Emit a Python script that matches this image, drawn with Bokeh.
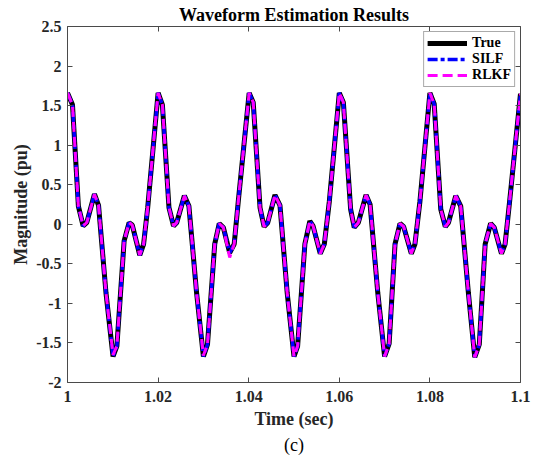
from bokeh.plotting import figure
from bokeh.models import (Range1d, FixedTicker, LinearAxis, Legend, LegendItem,
                          Title, CustomJSTickFormatter)
from bokeh.embed import file_html
from bokeh.resources import INLINE

# ---- data (time in ms after t = 1 s) ----
time_ms = [0.0, 1.1, 2.4, 3.45, 4.25, 5.95, 6.85, 8.5, 10.05, 10.9, 12.5, 13.6, 14.3, 15.95, 16.8, 17.7,
           20.0, 20.95, 22.4, 23.4, 24.1, 25.8, 26.8, 28.5, 30.0, 30.9, 32.5, 33.5, 34.4, 35.8, 36.8, 37.7,
           40.1, 41.0, 42.5, 43.4, 44.2, 45.8, 46.9, 48.5, 50.0, 50.8, 52.4, 53.5, 54.2, 55.8, 56.7, 57.8,
           60.0, 60.9, 62.5, 63.3, 64.2, 65.9, 66.8, 68.5, 70.0, 71.0, 72.3, 73.4, 74.2, 75.9, 76.7, 77.8,
           80.0, 80.95, 82.4, 83.4, 84.1, 85.7, 86.8, 88.5, 89.9, 90.9, 92.2, 93.4, 94.2, 95.8, 96.6, 97.6,
           100.0]

true_vals = [1.66, 1.51, 0.23, -0.02, 0.02, 0.38, 0.24, -0.87, -1.67, -1.54, -0.21, 0.02, -0.01, -0.39, -0.25, 0.21,
             1.66, 1.51, 0.21, -0.02, 0.02, 0.36, 0.23, -0.87, -1.67, -1.52, -0.25, 0.01, -0.04, -0.36, -0.25, 0.29,
             1.66, 1.54, 0.21, -0.03, 0.02, 0.37, 0.24, -0.87, -1.67, -1.54, -0.25, 0.04, -0.02, -0.37, -0.25, 0.29,
             1.66, 1.54, 0.19, -0.04, 0.02, 0.37, 0.25, -0.87, -1.67, -1.51, -0.25, 0.01, -0.03, -0.37, -0.25, 0.29,
             1.66, 1.52, 0.19, -0.03, 0.02, 0.36, 0.23, -0.87, -1.68, -1.52, -0.25, 0.01, -0.04, -0.37, -0.25, 0.29,
             1.65]

silf_vals = [1.66, 1.51, 0.23, -0.02, 0.02, 0.38, 0.24, -0.87, -1.67, -1.54, -0.21, 0.02, -0.01, -0.39, -0.25, 0.21,
             1.66, 1.51, 0.21, -0.02, 0.02, 0.36, 0.23, -0.87, -1.67, -1.52, -0.25, 0.01, -0.04, -0.36, -0.25, 0.29,
             1.66, 1.54, 0.21, -0.03, 0.02, 0.37, 0.24, -0.87, -1.67, -1.54, -0.25, 0.04, -0.02, -0.37, -0.25, 0.29,
             1.66, 1.54, 0.19, -0.04, 0.02, 0.37, 0.25, -0.87, -1.67, -1.51, -0.25, 0.01, -0.03, -0.37, -0.25, 0.29,
             1.66, 1.52, 0.19, -0.03, 0.02, 0.36, 0.23, -0.87, -1.68, -1.52, -0.25, 0.01, -0.04, -0.37, -0.25, 0.29,
             1.65]

rlkf_vals = [1.66, 1.51, 0.23, -0.02, 0.02, 0.38, 0.24, -0.87, -1.65, -1.54, -0.21, 0.02, -0.01, -0.39, -0.25, 0.21,
             1.66, 1.51, 0.21, -0.02, 0.02, 0.36, 0.23, -0.87, -1.66, -1.52, -0.25, 0.01, -0.04, -0.42, -0.25, 0.29,
             1.66, 1.54, 0.21, -0.03, 0.02, 0.37, 0.24, -0.87, -1.67, -1.54, -0.25, 0.04, -0.02, -0.37, -0.25, 0.29,
             1.66, 1.54, 0.19, -0.04, 0.02, 0.37, 0.25, -0.87, -1.67, -1.51, -0.25, 0.01, -0.03, -0.37, -0.25, 0.29,
             1.66, 1.52, 0.19, -0.03, 0.02, 0.36, 0.23, -0.87, -1.68, -1.52, -0.25, 0.01, -0.04, -0.37, -0.25, 0.29,
             1.65]

x_ticks = [1.0, 1.02, 1.04, 1.06, 1.08, 1.1]
y_ticks = [-2, -1.5, -1, -0.5, 0, 0.5, 1, 1.5, 2, 2.5]

time_s = [1.0 + t / 1000.0 for t in time_ms]

FONT = "Liberation Serif"
AX = "#4a4a4a"

p = figure(width=538, height=457, output_backend="svg", toolbar_location=None,
           x_range=Range1d(1.0, 1.1), y_range=Range1d(-2, 2.5),
           min_border_left=67, min_border_right=18, min_border_top=26, min_border_bottom=75,
           title="Waveform Estimation Results")
p.background_fill_color = "white"
p.border_fill_color = "white"
p.outline_line_color = None
p.xgrid.visible = False
p.ygrid.visible = False

p.title.align = "center"
p.title.text_font = FONT
p.title.text_font_style = "bold"
p.title.text_font_size = "18px"
p.title.text_color = "black"
p.title.standoff = 4

fmt = CustomJSTickFormatter(code="return String(Number(tick.toFixed(4)));")
blank_fmt = CustomJSTickFormatter(code="return '';")

def style_axis(ax, ticks, show_labels):
    ax.ticker = FixedTicker(ticks=ticks)
    ax.axis_line_color = AX
    ax.axis_line_width = 1
    ax.major_tick_line_color = AX
    ax.major_tick_in = 5
    ax.major_tick_out = 0
    ax.minor_tick_line_color = None
    ax.major_label_text_font = FONT
    ax.major_label_text_font_style = "bold"
    ax.major_label_text_color = "#262626"
    ax.major_label_text_font_size = "16px"
    if show_labels:
        ax.formatter = fmt
    else:
        ax.formatter = blank_fmt
        ax.major_label_standoff = 0
    ax.axis_label_text_font = FONT
    ax.axis_label_text_font_style = "bold"
    ax.axis_label_text_font_size = "18px"
    ax.axis_label_text_color = "#262626"

style_axis(p.xaxis[0], x_ticks, True)
style_axis(p.yaxis[0], y_ticks, True)
p.xaxis[0].axis_label = "Time (sec)"
p.xaxis[0].major_label_standoff = 8
p.xaxis[0].axis_label_standoff = 4
p.yaxis[0].axis_label = "Magnitude (pu)"
p.yaxis[0].major_label_standoff = 6
p.yaxis[0].axis_label_standoff = 2

top_ax = LinearAxis()
style_axis(top_ax, x_ticks, False)
p.add_layout(top_ax, "above")
right_ax = LinearAxis()
style_axis(right_ax, y_ticks, False)
p.add_layout(right_ax, "right")

r_true = p.line(time_s, true_vals, line_color="black", line_width=5)
r_silf = p.line(time_s, silf_vals, line_color="#0000FF", line_width=3.5, line_dash="10 3 4 3")
r_rlkf = p.line(time_s, rlkf_vals, line_color="#FF00FF", line_width=3, line_dash="10 5")

legend = Legend(items=[LegendItem(label="True", renderers=[r_true]),
                       LegendItem(label="SILF", renderers=[r_silf]),
                       LegendItem(label="RLKF", renderers=[r_rlkf])],
                location="top_right")
legend.margin = 5
legend.padding = 3
legend.spacing = 0
legend.glyph_width = 40
legend.glyph_height = 16
legend.label_height = 16
legend.label_standoff = 5
legend.label_text_font = FONT
legend.label_text_font_style = "bold"
legend.label_text_font_size = "14px"
legend.label_text_color = "black"
legend.border_line_color = "#555555"
legend.border_line_width = 1
legend.background_fill_color = "white"
legend.background_fill_alpha = 1
p.add_layout(legend)

sub = Title(text="(c)", align="center", text_font=FONT, text_font_style="normal",
            text_font_size="18px", text_color="black", standoff=2)
p.add_layout(sub, "below")

open("out.html", "w").write(file_html(p, INLINE))
